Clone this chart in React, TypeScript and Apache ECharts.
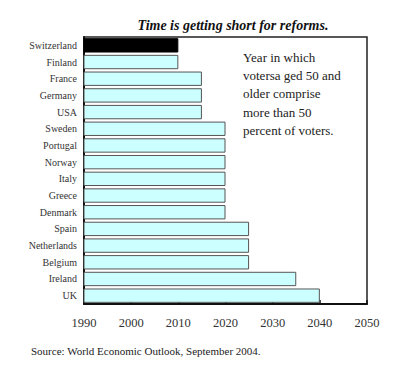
import React, { useEffect, useRef } from "react";
import * as echarts from "echarts";

const countries = [
  "Switzerland", "Finland", "France", "Germany", "USA", "Sweden", "Portugal", "Norway",
  "Italy", "Greece", "Denmark", "Spain", "Netherlands", "Belgium", "Ireland", "UK",
];
const years = [2010, 2010, 2015, 2015, 2015, 2020, 2020, 2020, 2020, 2020, 2020, 2025, 2025, 2025, 2035, 2040];
const highlighted = "Switzerland";
const xMin = 1990;
const xMax = 2050;
const xStep = 10;
const title = "Time is getting short for reforms.";
const note = ["Year in which", "votersa ged 50 and", "older comprise", "more than 50", "percent of voters."];
const source = "Source: World Economic Outlook, September 2004.";

export default function App() {
  const ref = useRef<HTMLDivElement>(null);
  useEffect(() => {
    if (!ref.current) return;
    const chart = echarts.init(ref.current, null, { renderer: "svg" });
    const serif = "Liberation Serif";
    chart.setOption({
      animation: false,
      backgroundColor: "#ffffff",
      textStyle: { fontFamily: serif },
      title: [
        {
          text: title,
          left: 228,
          top: 13,
          textAlign: "center",
          textStyle: { fontFamily: serif, fontSize: 14, fontStyle: "italic", fontWeight: "bold", color: "#111" },
        },
        {
          text: note.join("\n"),
          left: 238,
          top: 43,
          textStyle: { fontFamily: serif, fontSize: 13, fontWeight: "normal", color: "#222", lineHeight: 18.3 },
        },
        {
          text: source,
          left: 26,
          top: 340,
          textStyle: { fontFamily: serif, fontSize: 11, fontWeight: "normal", color: "#222" },
        },
      ],
      grid: {
        left: 84, right: 33, top: 37, bottom: 64,
        show: true, borderColor: "#222", borderWidth: 1.5, backgroundColor: "transparent",
      },
      xAxis: {
        type: "value", min: xMin, max: xMax, interval: xStep,
        axisLine: { show: true, lineStyle: { color: "#111", width: 2 } },
        axisTick: { show: true, inside: true, length: 4, lineStyle: { color: "#111", width: 1.5 } },
        splitLine: { show: false },
        axisLabel: { fontFamily: serif, fontSize: 12.5, color: "#333", margin: 12, formatter: (v: number) => String(v) },
      },
      yAxis: {
        type: "category", data: countries, inverse: true,
        axisLine: { show: true, lineStyle: { color: "#111", width: 2 } },
        axisTick: { show: false },
        axisLabel: { fontFamily: serif, fontSize: 10, color: "#333", margin: 7 },
      },
      series: [{
        type: "bar",
        barCategoryGap: "14%",
        data: years.map((v, i) => ({
          value: v,
          itemStyle: countries[i] === highlighted
            ? { color: "#000", borderColor: "#000", borderWidth: 1 }
            : { color: "#ccffff", borderColor: "#555", borderWidth: 1 },
        })),
      }],
    });
    return () => chart.dispose();
  }, []);
  return <div ref={ref} style={{ position: "fixed", left: 0, top: 0, width: 400, height: 368 }} />;
}
